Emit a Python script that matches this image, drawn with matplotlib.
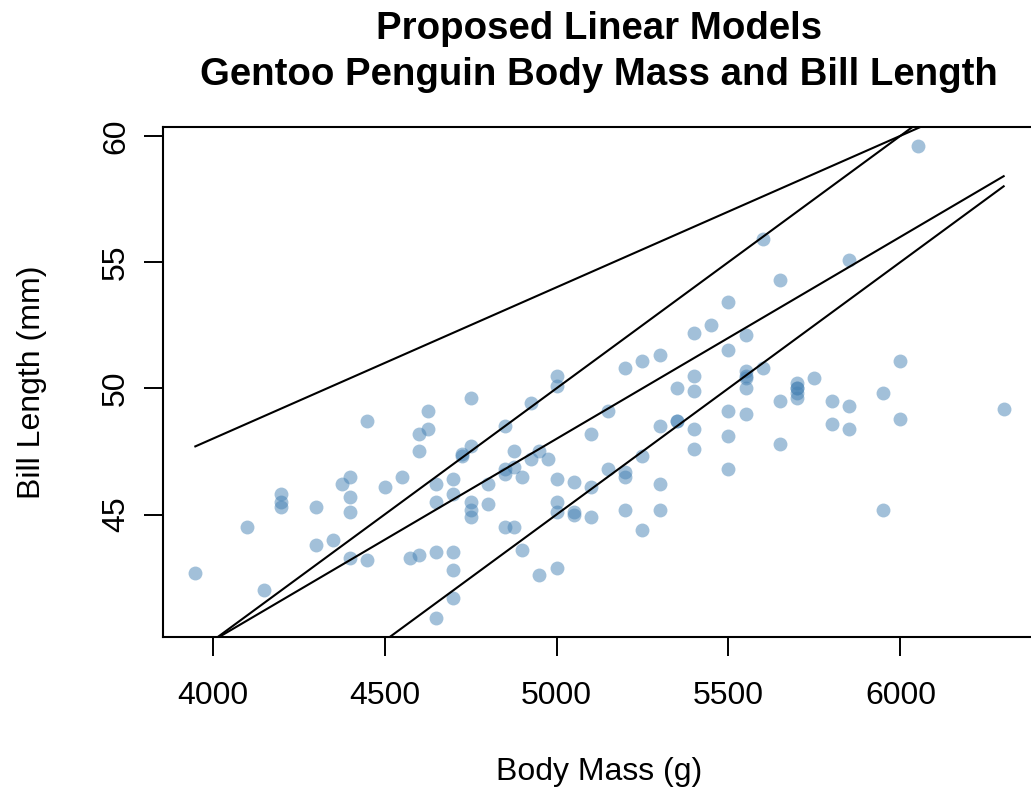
import matplotlib
matplotlib.use("Agg")
import matplotlib.pyplot as plt
import numpy as np

# Gentoo penguins: body mass (g) and bill length (mm)
body_mass = [4500, 5700, 4450, 5700, 5400, 4550, 4800, 5200, 4400, 5150,
             4650, 5550, 4650, 5850, 4200, 5850, 4150, 6300, 4800, 5350,
             5700, 5000, 4400, 5050, 5000, 5100, 4100, 5650, 4600, 5550,
             5250, 4700, 5050, 6050, 5150, 5400, 4950, 5250, 4350, 5350,
             3950, 5700, 4300, 4750, 5550, 4900, 4200, 5400, 5100, 5300,
             4850, 5300, 4400, 5000, 4900, 5050, 4300, 5000, 4450, 5550,
             4200, 5300, 4400, 5650, 4700, 5700, 4650, 5800, 4700, 5550,
             4750, 5000, 5100, 5200, 4700, 5800, 4600, 6000, 4750, 5950,
             4625, 5450, 4725, 5350, 4750, 5600, 4600, 5300, 4875, 5550,
             4950, 5400, 4750, 5650, 4850, 5200, 4925, 4875, 4625, 5250,
             4850, 5600, 4975, 5500, 4725, 5500, 4700, 5500, 4575, 5500,
             5000, 5950, 4650, 5500, 4375, 5850, 4875, 6000, 4925, 4850,
             5750, 5200, 5400]
bill_length = [46.1, 50.0, 48.7, 50.0, 47.6, 46.5, 45.4, 46.7, 43.3, 46.8,
               40.9, 49.0, 45.5, 48.4, 45.8, 49.3, 42.0, 49.2, 46.2, 48.7,
               50.2, 45.1, 46.5, 46.3, 42.9, 46.1, 44.5, 47.8, 48.2, 50.0,
               47.3, 42.8, 45.1, 59.6, 49.1, 48.4, 42.6, 44.4, 44.0, 48.7,
               42.7, 49.6, 45.3, 49.6, 50.5, 43.6, 45.5, 50.5, 44.9, 45.2,
               46.6, 48.5, 45.1, 50.1, 46.5, 45.0, 43.8, 45.5, 43.2, 50.4,
               45.3, 46.2, 45.7, 54.3, 45.8, 49.8, 46.2, 49.5, 43.5, 50.7,
               47.7, 46.4, 48.2, 46.5, 46.4, 48.6, 47.5, 51.1, 45.2, 45.2,
               49.1, 52.5, 47.4, 50.0, 44.9, 50.8, 43.4, 51.3, 47.5, 52.1,
               47.5, 52.2, 45.5, 49.5, 44.5, 50.8, 49.4, 46.9, 48.4, 51.1,
               48.5, 55.9, 47.2, 49.1, 47.3, 46.8, 41.7, 53.4, 43.3, 48.1,
               50.5, 49.8, 43.5, 51.5, 46.2, 55.1, 44.5, 48.8, 47.2, 46.8,
               50.4, 45.2, 49.9]

# candidate models: bill_length = intercept + slope * body_mass
intercepts = [24, 0, 8, -5]
slopes = [0.006, 0.01, 0.008, 0.01]

x = np.array(body_mass)
y = np.array(bill_length)

plt.rcParams['font.family'] = ['Liberation Sans', 'DejaVu Sans']

fig = plt.figure(figsize=(10.31, 7.91), dpi=100)
ax = fig.add_axes([163 / 1031, 1 - 637 / 791, 873 / 1031, 510 / 791])

ax.scatter(x, y, s=100, color='#4682B4', alpha=0.5, linewidths=0, zorder=2)

xs = np.array([x.min(), x.max()])
for a, b in zip(intercepts, slopes):
    ax.plot(xs, a + b * xs, color='black', lw=1.5, zorder=3)

# axis ranges padded by 4% like base R
xpad = (x.max() - x.min()) * 0.04
ypad = (y.max() - y.min()) * 0.04
ax.set_xlim(x.min() - xpad, x.max() + xpad)
ax.set_ylim(y.min() - ypad, y.max() + ypad)

ax.set_xticks([4000, 4500, 5000, 5500, 6000])
ax.set_yticks([45, 50, 55, 60])
ax.tick_params(axis='both', direction='out', length=14, width=1.4,
               labelsize=23, colors='black')
ax.tick_params(axis='x', pad=18)
ax.tick_params(axis='y', pad=9, labelrotation=90)
for lab in ax.get_yticklabels():
    lab.set_va('center')

for side in ['left', 'bottom', 'top', 'right']:
    ax.spines[side].set_linewidth(1.5)

ax.set_xlabel('Body Mass (g)', fontsize=23)
ax.xaxis.set_label_coords(0.5, -0.235)
ax.set_ylabel('Bill Length (mm)', fontsize=23)
ax.yaxis.set_label_coords(-0.133, 0.5)

fig.text(599 / 1031, 1 - 29 / 791, 'Proposed Linear Models', fontsize=27.6,
         fontweight='bold', ha='center', va='center')
fig.text(599 / 1031, 1 - 75 / 791, 'Gentoo Penguin Body Mass and Bill Length',
         fontsize=27.6, fontweight='bold', ha='center', va='center')

fig.savefig('out.png', dpi=100)
